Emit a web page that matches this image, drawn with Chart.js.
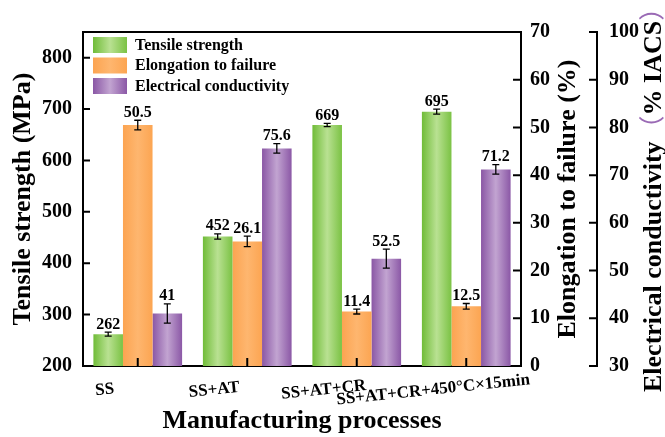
<!DOCTYPE html>
<html>
<head>
<meta charset="utf-8">
<script src="https://cdn.jsdelivr.net/npm/chart.js@4.4.1/dist/chart.umd.min.js"></script>
<style>
  html, body { margin: 0; padding: 0; background: #ffffff; }
  #wrap { width: 665px; height: 437px; }
</style>
</head>
<body>
<div id="wrap"><canvas id="chart" width="665" height="437"></canvas></div>
<script>
// Process routes and measured properties (mean ± error)
const processes = ['SS', 'SS+AT', 'SS+AT+CR', 'SS+AT+CR+450°C×15min'];
const seriesNames = ['Tensile strength', 'Elongation to failure', 'Electrical conductivity'];
const tensileStrength = [262, 452, 669, 695];
const tensileErr = [4, 5, 3, 5];
const elongation = [50.5, 26.1, 11.4, 12.5];
const elongationErr = [1.0, 1.1, 0.5, 0.6];
const conductivity = [41, 75.6, 52.5, 71.2];
const conductivityErr = [2.0, 1.0, 2.0, 1.0];

const SERIF = '"Liberation Serif", "Times New Roman", serif';
const CAT_PCT = 0.81;
const gradStops = [
  ['#70bc38', '#b9e192', '#7bc244'],
  ['#fca451', '#feb66f', '#fca552'],
  ['#8a57a5', '#c2a4d1', '#8b58a6']
];

function makeGradient(ctx, x0, x1, stops) {
  const g = ctx.createLinearGradient(x0, 0, x1, 0);
  g.addColorStop(0, stops[0]);
  g.addColorStop(0.5, stops[1]);
  g.addColorStop(1, stops[2]);
  return g;
}

// Horizontal gradient fill for each bar, built from the category scale
function barFill(context) {
  const chart = context.chart;
  const ds = context.datasetIndex;
  const stops = gradStops[ds];
  if (!chart.chartArea || context.dataIndex === undefined || !chart.scales.x) return stops[1];
  const xs = chart.scales.x;
  const n = chart.data.labels.length;
  const barW = (chart.chartArea.width / n) * CAT_PCT / 3;
  const cx = xs.getPixelForValue(context.dataIndex) + (ds - 1) * barW;
  return makeGradient(chart.ctx, cx - barW / 2, cx + barW / 2, stops);
}

const errors = [tensileErr, elongationErr, conductivityErr];

const decorPlugin = {
  id: 'decor',
  afterDatasetsDraw(chart) {
    const ctx = chart.ctx;
    const area = chart.chartArea;
    const xs = chart.scales.x, ys = chart.scales.y, y1 = chart.scales.y1, y2 = chart.scales.y2;
    ctx.save();

    // error bars and value labels
    chart.data.datasets.forEach((ds, di) => {
      const meta = chart.getDatasetMeta(di);
      const scale = chart.scales[ds.yAxisID];
      meta.data.forEach((bar, i) => {
        const v = ds.data[i], e = errors[di][i];
        const yTop = scale.getPixelForValue(v + e);
        const yBot = scale.getPixelForValue(v - e);
        ctx.strokeStyle = '#000';
        ctx.lineWidth = 1.3;
        ctx.beginPath();
        ctx.moveTo(bar.x, yTop); ctx.lineTo(bar.x, yBot);
        ctx.moveTo(bar.x - 3.5, yTop); ctx.lineTo(bar.x + 3.5, yTop);
        ctx.moveTo(bar.x - 3.5, yBot); ctx.lineTo(bar.x + 3.5, yBot);
        ctx.stroke();
        ctx.fillStyle = '#000';
        ctx.font = 'bold 16px ' + SERIF;
        ctx.textAlign = 'center';
        ctx.textBaseline = 'alphabetic';
        ctx.fillText(String(v), bar.x, yTop - 3.5);
      });
    });

    // frame top line
    ctx.strokeStyle = '#000';
    ctx.lineWidth = 2;
    ctx.beginPath();
    ctx.moveTo(area.left - 1, area.top);
    ctx.lineTo(area.right + 1, area.top);
    ctx.stroke();

    // inward tick marks
    ctx.lineWidth = 2;
    ctx.beginPath();
    ys.ticks.forEach(t => {
      const p = ys.getPixelForValue(t.value);
      ctx.moveTo(area.left, p); ctx.lineTo(area.left + 7, p);
    });
    y1.ticks.forEach(t => {
      const p = y1.getPixelForValue(t.value);
      ctx.moveTo(y1.left, p); ctx.lineTo(y1.left - 8, p);
    });
    y2.ticks.forEach(t => {
      const p = y2.getPixelForValue(t.value);
      ctx.moveTo(y2.left, p); ctx.lineTo(y2.left - 8, p);
    });
    processes.forEach((_, i) => {
      const p = xs.getPixelForValue(i);
      ctx.moveTo(p, area.bottom); ctx.lineTo(p, area.bottom - 8);
    });
    ctx.stroke();

    // slanted category labels
    ctx.fillStyle = '#000';
    ctx.font = 'bold 17px ' + SERIF;
    ctx.textAlign = 'center';
    ctx.textBaseline = 'middle';
    processes.forEach((lab, i) => {
      ctx.save();
      ctx.translate(xs.getPixelForValue(i) - 33, area.bottom + 24);
      ctx.rotate(-6 * Math.PI / 180);
      ctx.fillText(lab, 0, 0);
      ctx.restore();
    });

    // right-hand axis titles (reading upward)
    ctx.font = 'bold 26px ' + SERIF;
    ctx.save();
    ctx.translate(y1.left + 54, (area.top + area.bottom) / 2);
    ctx.rotate(-Math.PI / 2);
    ctx.textAlign = 'center';
    ctx.textBaseline = 'alphabetic';
    ctx.fillText('Elongation to failure (%)', 0, 0);
    ctx.restore();

    ctx.save();
    ctx.translate(y2.left + 64, area.bottom + 26);
    ctx.rotate(-Math.PI / 2);
    ctx.textAlign = 'left';
    ctx.textBaseline = 'alphabetic';
    const parts = [
      ['Electrical conductivity', '#000', 'bold 26px ' + SERIF],
      ['（', '#9a6ab5', '26px "Noto Sans CJK SC"'],
      ['% IACS', '#000', 'bold 26px ' + SERIF],
      ['）', '#9a6ab5', '26px "Noto Sans CJK SC"']
    ];
    let cx = 0;
    parts.forEach(([txt, col, f]) => {
      ctx.font = f;
      ctx.fillStyle = col;
      ctx.fillText(txt, cx, 0);
      cx += ctx.measureText(txt).width;
    });
    ctx.restore();

    // legend inside the plot
    ctx.font = 'bold 16px ' + SERIF;
    ctx.textAlign = 'left';
    ctx.textBaseline = 'middle';
    seriesNames.forEach((name, i) => {
      const sx = area.left + 10, sy = area.top + 5 + i * 20.5;
      ctx.fillStyle = makeGradient(ctx, sx, sx + 34, gradStops[i]);
      ctx.fillRect(sx, sy, 34, 16);
      ctx.fillStyle = '#000';
      ctx.fillText(name, sx + 42, sy + 8.5);
    });

    ctx.restore();
  }
};

const tickFont = { family: SERIF, size: 20, weight: 'bold' };

new Chart(document.getElementById('chart'), {
  type: 'bar',
  data: {
    labels: processes,
    datasets: [
      { label: seriesNames[0], data: tensileStrength, yAxisID: 'y', backgroundColor: barFill, borderWidth: 0 },
      { label: seriesNames[1], data: elongation, yAxisID: 'y1', backgroundColor: barFill, borderWidth: 0 },
      { label: seriesNames[2], data: conductivity, yAxisID: 'y2', backgroundColor: barFill, borderWidth: 0 }
    ]
  },
  options: {
    responsive: false,
    animation: false,
    devicePixelRatio: 1,
    layout: { padding: { top: 32, left: 0, right: 0, bottom: 0 } },
    datasets: { bar: { categoryPercentage: CAT_PCT, barPercentage: 1.0 } },
    plugins: { legend: { display: false }, tooltip: { enabled: false } },
    scales: {
      x: {
        grid: { display: false },
        border: { display: true, color: '#000', width: 2 },
        ticks: { display: false },
        title: {
          display: true, text: 'Manufacturing processes', color: '#000',
          font: { family: SERIF, size: 26, weight: 'bold' },
          padding: { top: 0, bottom: 0 }
        },
        afterFit(s) { s.height = 71; }
      },
      y: {
        position: 'left',
        min: 200, max: 850,
        grid: { display: false },
        border: { display: true, color: '#000', width: 2 },
        ticks: { stepSize: 100, color: '#000', font: tickFont, padding: 3 },
        afterBuildTicks(s) { s.ticks = s.ticks.filter(t => t.value <= 800); },
        title: {
          display: true, text: 'Tensile strength (MPa)', color: '#000',
          font: { family: SERIF, size: 26, weight: 'bold' },
          padding: { top: 8, bottom: 0 }
        },
        afterFit(s) { s.width = 83; }
      },
      y1: {
        position: 'right', weight: 1,
        min: 0, max: 70,
        grid: { display: false },
        border: { display: true, color: '#000', width: 2 },
        ticks: { stepSize: 10, color: '#000', font: tickFont, padding: 1 },
        afterFit(s) { s.width = 76; }
      },
      y2: {
        position: 'right', weight: 2,
        min: 30, max: 100,
        grid: { display: false },
        border: { display: true, color: '#000', width: 2 },
        ticks: { stepSize: 10, color: '#000', font: tickFont, padding: 4 },
        afterFit(s) { s.width = 68; }
      }
    }
  },
  plugins: [decorPlugin]
});
</script>
</body>
</html>
